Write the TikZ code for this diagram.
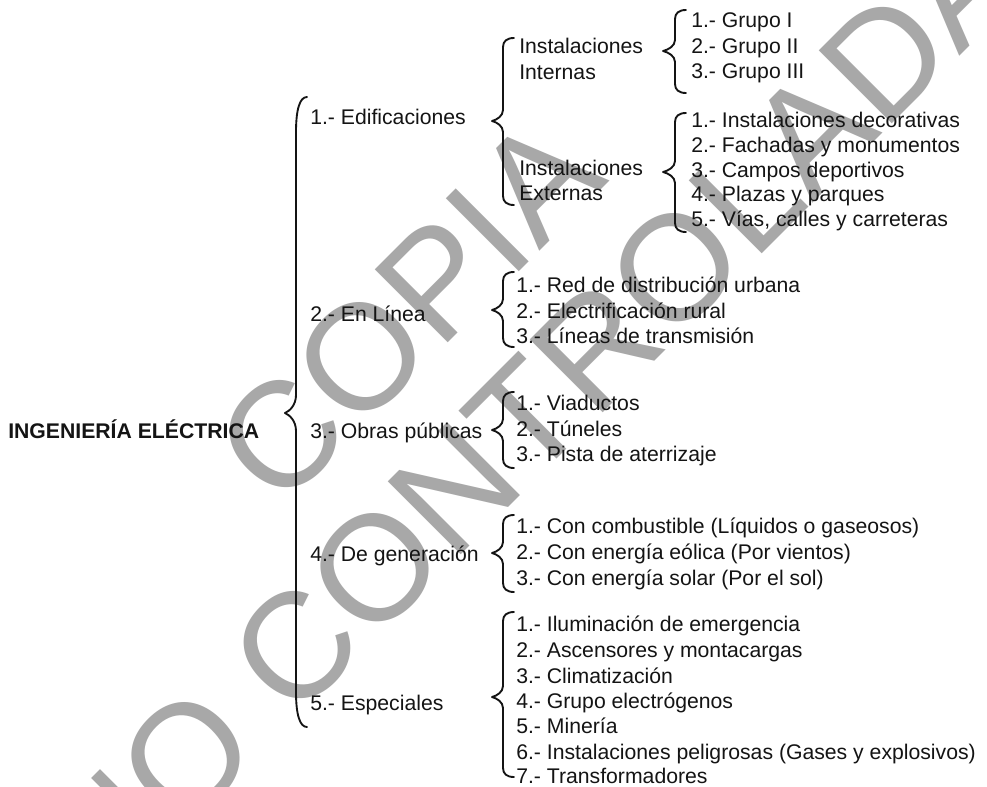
\documentclass[tikz,border=0pt]{standalone}
\usepackage{fontspec}
\setmainfont{Liberation Sans}
\definecolor{wm}{gray}{0.66}
\definecolor{ink}{gray}{0.08}
\tikzset{
  lbl/.style={anchor=base west, inner sep=0pt, font=\fontsize{15.9pt}{19pt}\selectfont, text=ink},
  rootlbl/.style={lbl, font=\fontsize{15.9pt}{19pt}\selectfont\bfseries},
  brc/.style={draw=ink, line width=1.4pt, line cap=round, line join=round},
  wmark/.style={anchor=base, inner sep=0pt, rotate=45, text=wm, font=\fontsize{112.5pt}{120pt}\selectfont},
}
% #1 x of ends, #2 x of spine, #3 x of tip, #4 y top, #5 y tip, #6 y bottom, #7 end curl, #8 tip curl
\newcommand{\mybrace}[8]{%
  \draw[brc] (#1,#4) .. controls ({#2+0.35*(#1-#2)},#4) and (#2,{#4+0.35*#7}) .. (#2,{#4+#7})
    -- (#2,{#5-#8})
    .. controls (#2,{#5-0.45*#8}) and ({#3+0.45*(#2-#3)},{#5-0.12*#8}) .. (#3,#5)
    .. controls ({#3+0.45*(#2-#3)},{#5+0.12*#8}) and (#2,{#5+0.45*#8}) .. (#2,{#5+#8})
    -- (#2,{#6-#7})
    .. controls (#2,{#6-0.35*#7}) and ({#2+0.35*(#1-#2)},#6) .. (#1,#6);
}
\begin{document}
\begin{tikzpicture}[x=0.75pt,y=-0.75pt]
\fill[white] (0,0) rectangle (987,786);
\useasboundingbox (0,0) rectangle (987,786);
\begin{scope}
  \clip (0,0) rectangle (987,786);
  \node[wmark] (wm1) at (445,346) {COPIA};
  \node[wmark] (wm2) at (568,448) {NO CONTROLADA};
\end{scope}

% root
\node[rootlbl] (root) at (8,438) {INGENIERÍA ELÉCTRICA};
\mybrace{307}{296}{285}{97}{413}{727}{35}{18}

% level 1
\node[lbl] (edif) at (310,124) {1.- Edificaciones};
\node[lbl] (linea) at (310,321) {2.- En Línea};
\node[lbl] (obras) at (310,438) {3.- Obras públicas};
\node[lbl] (gen) at (310,561) {4.- De generación};
\node[lbl] (esp) at (310,710) {5.- Especiales};

% Edificaciones
\mybrace{514}{503}{492}{38}{121}{205}{9}{11}
\node[lbl] (intA) at (519,53) {Instalaciones};
\node[lbl] (intB) at (519,79) {Internas};
\node[lbl] (extA) at (519,175) {Instalaciones};
\node[lbl] (extB) at (519,200) {Externas};

\mybrace{686}{675}{663}{10}{51}{93}{9}{11}
\node[lbl] (g1) at (691,27) {1.- Grupo I};
\node[lbl] (g2) at (691,53) {2.- Grupo II};
\node[lbl] (g3) at (691,78) {3.- Grupo III};

\mybrace{686}{675}{663}{113}{172}{232}{9}{11}
\node[lbl] (e1) at (691,127) {1.- Instalaciones decorativas};
\node[lbl] (e2) at (691,152) {2.- Fachadas y monumentos};
\node[lbl] (e3) at (691,177) {3.- Campos deportivos};
\node[lbl] (e4) at (691,201) {4.- Plazas y parques};
\node[lbl] (e5) at (691,226) {5.- Vías, calles y carreteras};

% En Linea
\mybrace{514}{503}{492}{272}{310}{347}{9}{11}
\node[lbl] (l1) at (516,292) {1.- Red de distribución urbana};
\node[lbl] (l2) at (516,318) {2.- Electrificación rural};
\node[lbl] (l3) at (516,343) {3.- Líneas de transmisión};

% Obras
\mybrace{514}{503}{492}{392}{430}{468}{9}{11}
\node[lbl] (o1) at (516,410) {1.- Viaductos};
\node[lbl] (o2) at (516,436) {2.- Túneles};
\node[lbl] (o3) at (516,461) {3.- Pista de aterrizaje};

% Generacion
\mybrace{514}{503}{492}{515}{553}{592}{9}{11}
\node[lbl] (n1) at (516,533) {1.- Con combustible (Líquidos o gaseosos)};
\node[lbl] (n2) at (516,559) {2.- Con energía eólica (Por vientos)};
\node[lbl] (n3) at (516,585) {3.- Con energía solar (Por el sol)};

% Especiales
\mybrace{514}{503}{492}{612}{697}{777}{9}{11}
\node[lbl] (s1) at (516,631) {1.- Iluminación de emergencia};
\node[lbl] (s2) at (516,657) {2.- Ascensores y montacargas};
\node[lbl] (s3) at (516,683) {3.- Climatización};
\node[lbl] (s4) at (516,708) {4.- Grupo electrógenos};
\node[lbl] (s5) at (516,733) {5.- Minería};
\node[lbl] (s6) at (516,759) {6.- Instalaciones peligrosas (Gases y explosivos)};
\node[lbl] (s7) at (516,783) {7.- Transformadores};
\end{tikzpicture}
\end{document}
